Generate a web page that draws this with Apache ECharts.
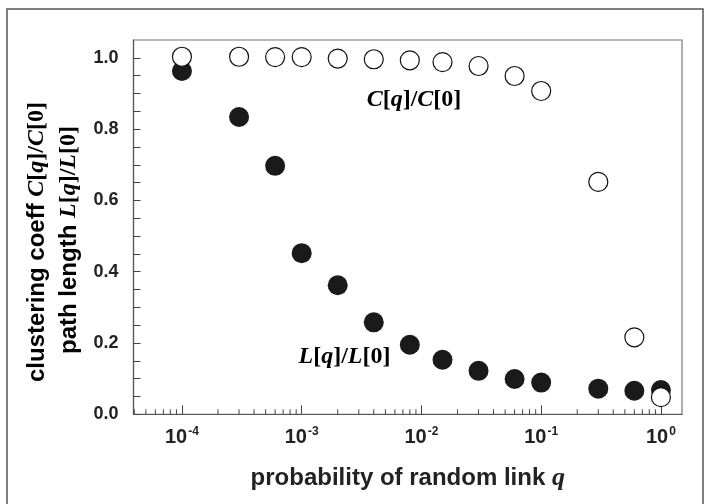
<!DOCTYPE html>
<html><head><meta charset="utf-8">
<script src="https://cdn.jsdelivr.net/npm/echarts@6/dist/echarts.min.js"></script>
<style>html,body{margin:0;padding:0;background:#fff}#c{width:709px;height:504px}</style>
</head><body><div id="c"></div>
<script>
// probability of random link q
const q = [1e-4, 3e-4, 6e-4, 1e-3, 2e-3, 4e-3, 8e-3, 1.5e-2, 3e-2, 6e-2, 0.1, 0.3, 0.6, 1.0];
// clustering coefficient C[q]/C[0]
const C = [1.003, 1.003, 1.002, 1.002, 0.998, 0.996, 0.993, 0.988, 0.977, 0.949, 0.907, 0.652, 0.216, 0.048];
// path length L[q]/L[0]
const L = [0.963, 0.834, 0.697, 0.452, 0.362, 0.258, 0.195, 0.153, 0.122, 0.099, 0.089, 0.072, 0.066, 0.068];
// axis ranges / ticks
const xMin = 3.94e-5, xMax = 1.5;
const yMin = 0, yMax = 1.05, yStep = 0.05;
const minorMult = [2, 3, 4, 5, 6, 7, 8, 9];
const minorDecades = [1e-5, 1e-4, 1e-3, 1e-2, 1e-1, 1];

const minorTicks = [];
minorDecades.forEach(d => minorMult.forEach(m => {
  const v = d * m;
  if (v > xMin * 1.01 && v < xMax) minorTicks.push([v, 0]);
}));

const SANS = 'Liberation Sans';
const SERIF = 'Liberation Serif';
const TXT = '#222';

const chart = echarts.init(document.getElementById('c'));
const serifRich = {
  a: {fontFamily: SANS, fontWeight: 'bold', fontSize: 24, color: TXT},
  i: {fontFamily: SERIF, fontWeight: 'bold', fontStyle: 'italic', fontSize: 24, color: TXT},
  n: {fontFamily: SERIF, fontWeight: 'bold', fontSize: 24, color: TXT}
};
chart.setOption({
  animation: false,
  backgroundColor: '#fff',
  grid: {left: 133.5, right: 27, top: 40, bottom: 89.7, show: true, borderColor: '#777', borderWidth: 1.2, backgroundColor: 'transparent'},
  xAxis: {
    type: 'log', logBase: 10, min: xMin, max: xMax,
    name: 'probability of random link {q|q}',
    nameLocation: 'middle', nameGap: 51,
    nameTextStyle: {
      fontFamily: SANS, fontWeight: 'bold', fontSize: 24, color: TXT,
      rich: {q: {fontFamily: SERIF, fontWeight: 'bold', fontStyle: 'italic', fontSize: 26, color: TXT}}
    },
    axisLine: {show: true, lineStyle: {color: '#555', width: 1.2}},
    axisTick: {show: true, inside: true, length: 9, lineStyle: {color: '#444', width: 1}},
    splitLine: {show: false},
    axisLabel: {
      showMinLabel: false, showMaxLabel: false, margin: 11,
      formatter: v => {
        const lg = Math.log10(v), e = Math.round(lg);
        if (Math.abs(lg - e) > 1e-6) return '';
        return '{b|10}{s|' + e + '}';
      },
      rich: {
        b: {fontFamily: SANS, fontWeight: 'bold', fontSize: 20, lineHeight: 22, color: TXT, verticalAlign: 'bottom'},
        s: {fontFamily: SANS, fontWeight: 'bold', fontSize: 12, lineHeight: 12, color: TXT, verticalAlign: 'top', padding: [0, 0, 0, 1]}
      }
    }
  },
  yAxis: {
    type: 'value', min: yMin, max: yMax, interval: yStep,
    axisLine: {show: true, lineStyle: {color: '#555', width: 1.2}},
    axisTick: {show: true, inside: true, length: 7, lineStyle: {color: '#444', width: 1}},
    splitLine: {show: false},
    axisLabel: {
      margin: 15, fontFamily: SANS, fontWeight: 'bold', fontSize: 18, color: TXT, showMaxLabel: false,
      formatter: v => {
        const k = v * 5;
        return Math.abs(k - Math.round(k)) < 1e-6 && v <= 1.0001 ? v.toFixed(1) : '';
      }
    }
  },
  graphic: [
    {type: 'rect', shape: {x: 7, y: 9, width: 696, height: 520}, style: {fill: 'none', stroke: '#555', lineWidth: 1.5}, silent: true, z: -1},
    {type: 'text', x: 37, y: 242, rotation: Math.PI / 2, silent: true,
      style: {text: '{a|clustering coeff }{i|C}{n|[}{i|q}{n|]/}{i|C}{n|[0]}', rich: serifRich, align: 'center', verticalAlign: 'middle'}},
    {type: 'text', x: 69, y: 240, rotation: Math.PI / 2, silent: true,
      style: {text: '{a|path length }{i|L}{n|[}{i|q}{n|]/}{i|L}{n|[0]}', rich: serifRich, align: 'center', verticalAlign: 'middle'}},
    {type: 'text', x: 414, y: 100, silent: true,
      style: {text: '{i|C}{n|[}{i|q}{n|]/}{i|C}{n|[0]}', rich: serifRich, align: 'center', verticalAlign: 'middle'}},
    {type: 'text', x: 344.5, y: 357, silent: true,
      style: {text: '{i|L}{n|[}{i|q}{n|]/}{i|L}{n|[0]}', rich: serifRich, align: 'center', verticalAlign: 'middle'}}
  ],
  series: [
    {
      type: 'custom', name: 'minorTicks', silent: true, z: 1,
      data: minorTicks,
      renderItem: (params, api) => {
        const p = api.coord([api.value(0), 0]);
        return {type: 'line', shape: {x1: p[0], y1: p[1], x2: p[0], y2: p[1] - 5}, style: {stroke: '#444', lineWidth: 1}};
      }
    },
    {
      type: 'scatter', name: 'L[q]/L[0]', z: 3,
      data: q.map((x, i) => [x, L[i]]),
      symbol: 'circle', symbolSize: 20,
      itemStyle: {color: '#1a1a1a', opacity: 1}
    },
    {
      type: 'scatter', name: 'C[q]/C[0]', z: 4,
      data: q.map((x, i) => [x, C[i]]),
      symbol: 'circle', symbolSize: 19,
      itemStyle: {color: '#fff', borderColor: '#111', borderWidth: 1.2, opacity: 1}
    }
  ]
});
</script>
</body></html>
